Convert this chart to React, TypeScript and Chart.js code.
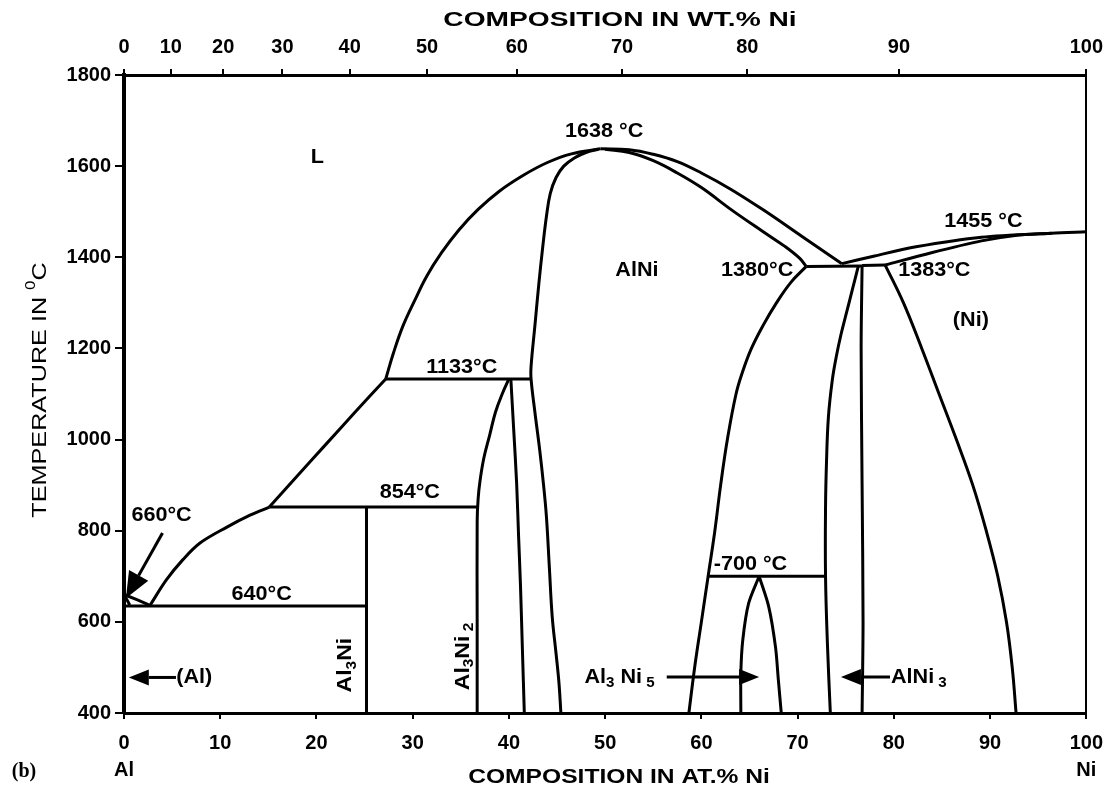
import React, { useEffect, useRef } from "react";
import { Chart, registerables } from "chart.js";
Chart.register(...registerables);

type P = [number, number];

// ---- axis tick lists ----
const AT_TICKS: number[] = [0, 10, 20, 30, 40, 50, 60, 70, 80, 90, 100];
const WT_TICKS: number[] = [0, 10, 20, 30, 40, 50, 60, 70, 80, 90, 100];
const T_TICKS: number[] = [400, 600, 800, 1000, 1200, 1400, 1600, 1800];

// ---- phase boundaries (at.% Ni, °C) ----
const LIQ_AL: P[] = [[0, 660], [1.4, 648], [2.7, 636]];
const SOL_AL: P[] = [[0, 660], [0.6, 637]];
const LIQ_AL3NI: P[] = [[2.7, 636], [4.4, 692], [6.1, 736], [7.9, 773], [10.7, 808], [13.1, 834], [15.1, 852]];
const LIQ_AL3NI2: P[] = [[15.1, 852], [18, 920], [21, 990], [24, 1060], [27.2, 1133]];
const LIQ_ALNI_L: P[] = [[27.2, 1133], [28.0, 1190], [29.0, 1250], [30.2, 1305], [31.5, 1360], [33.0, 1410], [34.8, 1460], [36.8, 1505], [39.0, 1545], [41.5, 1580], [44.0, 1608], [46.5, 1627], [49.5, 1638]];
const LIQ_ALNI_R: P[] = [[49.5, 1638], [52.5, 1636], [55.0, 1626], [57.5, 1610], [60.0, 1585], [63.0, 1550], [66.5, 1503], [70.5, 1445], [74.6, 1386]];
const SOL_ALNI_R: P[] = [[50, 1637], [52.5, 1630], [55.0, 1612], [57.5, 1585], [60.0, 1553], [63.2, 1503], [66.5, 1455], [68.6, 1425], [70.2, 1398], [70.9, 1380]];
const ALNI_LEFT: P[] = [[49.3, 1637], [48.0, 1630], [46.8, 1618], [45.7, 1600], [44.9, 1575], [44.3, 1540], [43.9, 1490], [43.5, 1420], [43.1, 1340], [42.7, 1250], [42.3, 1160], [42.3, 1133], [42.7, 1060], [43.2, 977], [43.6, 900], [43.9, 830], [44.2, 720], [44.5, 611], [44.9, 530], [45.2, 466], [45.4, 400]];
const ALNI_RIGHT: P[] = [[70.9, 1380], [69.3, 1345], [67.8, 1300], [66.4, 1250], [65.2, 1200], [64.3, 1150], [63.6, 1100], [62.7, 1000], [62.0, 900], [61.4, 800], [60.7, 700], [60.0, 600], [59.3, 500], [58.7, 400]];
const AL3NI2_LEFT: P[] = [[40.0, 1133], [39.3, 1100], [38.6, 1060], [38.0, 1010], [37.4, 960], [37.0, 910], [36.8, 870], [36.7, 820], [36.7, 600], [36.7, 400]];
const AL3NI2_RIGHT: P[] = [[40.2, 1133], [40.5, 1020], [40.8, 905], [41.0, 790], [41.2, 680], [41.4, 540], [41.6, 400]];
const AL3NI: P[] = [[25.2, 852], [25.2, 400]];
const AL3NI5_LEFT: P[] = [[64.1, 400], [64.1, 488], [64.3, 560], [64.9, 640], [66.0, 700]];
const AL3NI5_RIGHT: P[] = [[66.0, 700], [67.0, 633], [67.7, 545], [68.0, 472], [68.3, 400]];
const ALNI3_LEFT: P[] = [[76.3, 1380], [75.7, 1330], [75.1, 1280], [74.5, 1230], [74.0, 1180], [73.6, 1130], [73.2, 1050], [73.0, 950], [72.9, 850], [72.9, 700], [73.1, 550], [73.4, 400]];
const ALNI3_RIGHT: P[] = [[76.7, 1382], [76.6, 1200], [76.7, 900], [76.8, 600], [76.7, 400]];
const NI_SOLVUS: P[] = [[79.1, 1383], [81.0, 1300], [82.9, 1200], [84.7, 1100], [86.5, 1000], [88.2, 900], [89.6, 800], [90.8, 700], [91.7, 600], [92.3, 500], [92.7, 400]];
const LIQ_NI: P[] = [[74.6, 1386], [78.0, 1403], [82.3, 1423], [89.1, 1444], [96.4, 1453], [100, 1456]];
const SOL_NI: P[] = [[79.1, 1383], [83.9, 1410], [89.1, 1436], [92.6, 1448], [96.4, 1453]];
const ISO_1133: P[] = [[27.2, 1133], [42.3, 1133]];
const ISO_854: P[] = [[15.1, 852], [36.7, 852]];
const ISO_640: P[] = [[0, 635], [25.2, 635]];
const ISO_700: P[] = [[60.7, 700], [72.9, 700]];
const ISO_1380: P[] = [[70.9, 1380], [76.7, 1381]];
const ISO_1383: P[] = [[76.7, 1382], [79.1, 1383]];

const CURVES: { d: P[]; t: number }[] = [
  { d: LIQ_AL, t: 0 }, { d: SOL_AL, t: 0 }, { d: LIQ_AL3NI, t: 0.35 }, { d: LIQ_AL3NI2, t: 0.2 },
  { d: LIQ_ALNI_L, t: 0.4 }, { d: LIQ_ALNI_R, t: 0.4 }, { d: SOL_ALNI_R, t: 0.4 }, { d: ALNI_LEFT, t: 0.4 },
  { d: ALNI_RIGHT, t: 0.4 }, { d: AL3NI2_LEFT, t: 0.4 }, { d: AL3NI2_RIGHT, t: 0.3 }, { d: AL3NI, t: 0 },
  { d: AL3NI5_LEFT, t: 0.3 }, { d: AL3NI5_RIGHT, t: 0.3 }, { d: ALNI3_LEFT, t: 0.4 }, { d: ALNI3_RIGHT, t: 0.3 },
  { d: NI_SOLVUS, t: 0.4 }, { d: LIQ_NI, t: 0.3 }, { d: SOL_NI, t: 0.3 }, { d: ISO_1133, t: 0 },
  { d: ISO_854, t: 0 }, { d: ISO_640, t: 0 }, { d: ISO_700, t: 0 }, { d: ISO_1380, t: 0 }, { d: ISO_1383, t: 0 },
];

// ---- text labels ----
type Seg = { t: string; sub?: boolean; sup?: boolean };
const LABELS: { x: number; y: number; segs: Seg[]; rot?: boolean }[] = [
  { x: 20.1, y: 1618, segs: [{ t: "L" }] },
  { x: 49.9, y: 1675, segs: [{ t: "1638 °C" }] },
  { x: 53.3, y: 1372, segs: [{ t: "AlNi" }] },
  { x: 65.8, y: 1372, segs: [{ t: "1380°C" }] },
  { x: 84.2, y: 1372, segs: [{ t: "1383°C" }] },
  { x: 89.3, y: 1478, segs: [{ t: "1455 °C" }] },
  { x: 88.0, y: 1262, segs: [{ t: "(Ni)" }] },
  { x: 35.1, y: 1158, segs: [{ t: "1133°C" }] },
  { x: 29.7, y: 884, segs: [{ t: "854°C" }] },
  { x: 3.9, y: 834, segs: [{ t: "660°C" }] },
  { x: 14.3, y: 661, segs: [{ t: "640°C" }] },
  { x: 65.1, y: 726, segs: [{ t: "-700 °C" }] },
  { x: 7.3, y: 478, segs: [{ t: "(Al)" }] },
  { x: 23.0, y: 505, segs: [{ t: "Al" }, { t: "3", sub: true }, { t: "Ni" }], rot: true },
  { x: 35.2, y: 524, segs: [{ t: "Al" }, { t: "3", sub: true }, { t: "Ni" }, { t: " 2", sub: true }], rot: true },
  { x: 51.5, y: 479, segs: [{ t: "Al" }, { t: "3", sub: true }, { t: " Ni" }, { t: " 5", sub: true }] },
  { x: 82.6, y: 479, segs: [{ t: "AlNi" }, { t: " 3", sub: true }] },
];

const ARROWS: { x1: number; y1: number; x2: number; y2: number; h: number; w: number }[] = [
  { x1: 4.0, y1: 795, x2: 0.2, y2: 652, h: 26, w: 22 },
  { x1: 5.4, y1: 478, x2: 0.5, y2: 478, h: 20, w: 16 },
  { x1: 56.4, y1: 479, x2: 66.0, y2: 479, h: 20, w: 16 },
  { x1: 79.6, y1: 479, x2: 74.5, y2: 479, h: 20, w: 16 },
];

const FONT = "'Liberation Sans', Arial, Helvetica, sans-serif";

function wtToAt(w: number): number {
  const ni = w / 58.69;
  const al = (100 - w) / 26.98;
  return (100 * ni) / (ni + al);
}

function drawRich(
  ctx: CanvasRenderingContext2D,
  segs: Seg[],
  x: number,
  y: number,
  o: { size: number; weight?: string; family?: string; align?: string; sx?: number; rot?: number }
) {
  const weight = o.weight ?? "bold";
  const family = o.family ?? FONT;
  const sx = o.sx ?? 1;
  const f = (s: Seg) => `${weight} ${s.sub || s.sup ? Math.round(o.size * 0.68) : o.size}px ${family}`;
  ctx.save();
  ctx.translate(x, y);
  if (o.rot) ctx.rotate(o.rot);
  ctx.scale(sx, 1);
  let total = 0;
  for (const s of segs) {
    ctx.font = f(s);
    total += ctx.measureText(s.t).width;
  }
  let cx = o.align === "left" ? 0 : o.align === "right" ? -total : -total / 2;
  ctx.textBaseline = "middle";
  ctx.textAlign = "left";
  ctx.fillStyle = "#000";
  for (const s of segs) {
    ctx.font = f(s);
    const dy = s.sub ? o.size * 0.32 : s.sup ? -o.size * 0.42 : 0;
    ctx.fillText(s.t, cx, dy);
    cx += ctx.measureText(s.t).width;
  }
  ctx.restore();
}

function drawArrow(ctx: CanvasRenderingContext2D, x1: number, y1: number, x2: number, y2: number, h: number, w: number) {
  const ang = Math.atan2(y2 - y1, x2 - x1);
  const bx = x2 - h * Math.cos(ang);
  const by = y2 - h * Math.sin(ang);
  ctx.save();
  ctx.strokeStyle = "#000";
  ctx.fillStyle = "#000";
  ctx.lineWidth = 3;
  ctx.beginPath();
  ctx.moveTo(x1, y1);
  ctx.lineTo(bx, by);
  ctx.stroke();
  ctx.beginPath();
  ctx.moveTo(x2, y2);
  ctx.lineTo(bx + (w / 2) * Math.sin(ang), by - (w / 2) * Math.cos(ang));
  ctx.lineTo(bx - (w / 2) * Math.sin(ang), by + (w / 2) * Math.cos(ang));
  ctx.closePath();
  ctx.fill();
  ctx.restore();
}

const textPlugin = {
  id: "phaseText",
  afterDraw(chart: any) {
    const ctx: CanvasRenderingContext2D = chart.ctx;
    const xs = chart.scales.x;
    const ys = chart.scales.y;
    for (const a of ARROWS) {
      drawArrow(ctx, xs.getPixelForValue(a.x1), ys.getPixelForValue(a.y1), xs.getPixelForValue(a.x2), ys.getPixelForValue(a.y2), a.h, a.w);
    }
    for (const l of LABELS) {
      drawRich(ctx, l.segs, xs.getPixelForValue(l.x), ys.getPixelForValue(l.y), {
        size: l.rot ? 21 : 20,
        sx: l.rot ? 1.1 : 1.08,
        rot: l.rot ? -Math.PI / 2 : 0,
      });
    }
    drawRich(ctx, [{ t: "COMPOSITION IN WT.% Ni" }], 620, 20, { size: 21, sx: 1.34 });
    drawRich(ctx, [{ t: "COMPOSITION IN AT.% Ni" }], 619, 777, { size: 20, sx: 1.23 });
    drawRich(ctx, [{ t: "TEMPERATURE IN " }, { t: "0", sup: true }, { t: "C" }], 40, 390, {
      size: 21,
      weight: "normal",
      sx: 1.2,
      rot: -Math.PI / 2,
    });
    drawRich(ctx, [{ t: "Al" }], xs.getPixelForValue(0), 770, { size: 20 });
    drawRich(ctx, [{ t: "Ni" }], xs.getPixelForValue(100), 770, { size: 20 });
    drawRich(ctx, [{ t: "(b)" }], 24, 772, { size: 20, family: "'Liberation Serif', serif" });
  },
};

export default function App() {
  const ref = useRef<HTMLCanvasElement | null>(null);
  useEffect(() => {
    document.body.style.margin = "0";
    const canvas = ref.current;
    if (!canvas) return;
    const tickFont = { family: FONT, size: 20, weight: "bold" as const };
    const gridCommon = { display: true, drawOnChartArea: false, drawTicks: true, tickLength: 8, color: "#000", lineWidth: 2 };
    const chart = new Chart(canvas, {
      type: "scatter",
      data: {
        datasets: CURVES.map((c) => ({
          data: c.d.map(([x, y]) => ({ x, y })),
          showLine: true,
          borderColor: "#000",
          backgroundColor: "#000",
          borderWidth: 3,
          pointRadius: 0,
          tension: c.t,
          fill: false,
        })),
      },
      options: {
        animation: false,
        responsive: false,
        devicePixelRatio: 1,
        layout: { padding: 0 },
        plugins: { legend: { display: false }, tooltip: { enabled: false } },
        scales: {
          x: {
            type: "linear",
            position: "bottom",
            min: 0,
            max: 100,
            afterBuildTicks: (s: any) => {
              s.ticks = AT_TICKS.map((v) => ({ value: v }));
            },
            ticks: {
              autoSkip: false,
              maxRotation: 0,
              font: tickFont,
              color: "#000",
              padding: 12,
              callback: (v: any) => String(v),
            },
            grid: { ...gridCommon, tickLength: 6 },
            border: { display: true, color: "#000", width: 3 },
            afterFit: (s: any) => {
              s.height = 82;
            },
          },
          x2: {
            type: "linear",
            position: "top",
            min: 0,
            max: 100,
            afterBuildTicks: (s: any) => {
              s.ticks = WT_TICKS.map((w) => ({ value: wtToAt(w) }));
            },
            ticks: {
              autoSkip: false,
              maxRotation: 0,
              font: tickFont,
              color: "#000",
              padding: 10,
              callback: (_v: any, i: number) => String(WT_TICKS[i]),
            },
            grid: { ...gridCommon, tickLength: 6 },
            border: { display: true, color: "#000", width: 3 },
            afterFit: (s: any) => {
              s.height = 75;
            },
          },
          y: {
            type: "linear",
            position: "left",
            min: 400,
            max: 1800,
            afterBuildTicks: (s: any) => {
              s.ticks = T_TICKS.map((v) => ({ value: v }));
            },
            ticks: { autoSkip: false, font: tickFont, color: "#000", padding: 4, callback: (v: any) => String(v) },
            grid: { ...gridCommon, tickLength: 9 },
            border: { display: true, color: "#000", width: 4 },
            afterFit: (s: any) => {
              s.width = 124;
            },
          },
          y2: {
            type: "linear",
            position: "right",
            min: 400,
            max: 1800,
            ticks: { display: false },
            grid: { display: false },
            border: { display: true, color: "#000", width: 2 },
            afterFit: (s: any) => {
              s.width = 27;
            },
          },
        },
      },
      plugins: [textPlugin],
    });
    return () => chart.destroy();
  }, []);
  return <canvas ref={ref} width={1115} height={795} style={{ display: "block" }} />;
}
